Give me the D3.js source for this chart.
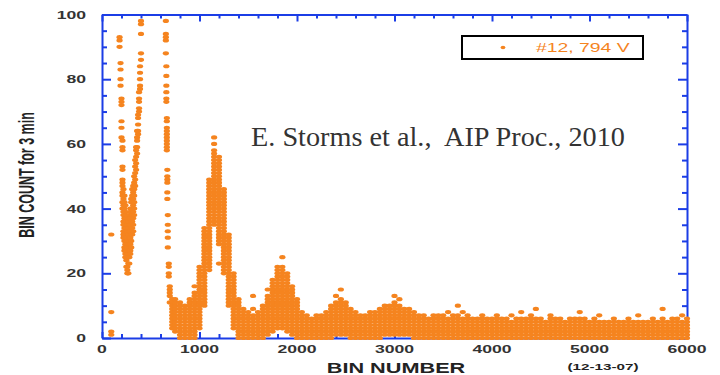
<!DOCTYPE html>
<html>
<head>
<meta charset="utf-8">
<script src="https://cdn.jsdelivr.net/npm/d3@7"></script>
<style>
  body { margin: 0; background: #fff; }
  svg { display: block; }
</style>
</head>
<body>
<div id="chart"></div>
<script>

var width = 720,
  height = 375;

// axis ticks
var xMajorTicks = [0, 1000, 2000, 3000, 4000, 5000, 6000];
var yMajorTicks = [0, 20, 40, 60, 80, 100];

var seriesLabel = "#12, 794 V";

// each bin number carries the list of counts seen around it
var binNumbers = [
  95,
  180, 190, 200, 210, 220, 230, 240, 250, 260, 270, 280, 290, 300, 310, 320, 330, 340, 350, 360, 370, 380, 390, 400,
  655, 660, 665, 670, 675, 685, 695, 720,
  750, 800, 850, 900, 950, 1000, 1050, 1100, 1150, 1200, 1250, 1300, 1350, 1400, 1450, 1500, 1550, 1600, 1650,
  1700, 1750, 1800, 1850, 1900, 1950, 2000, 2050, 2100, 2150, 2200, 2250, 2300, 2350, 2400, 2450, 2500, 2550,
  2600, 2650, 2700, 2750, 2800, 2850, 2900, 2950, 3000, 3050, 3100, 3150, 3200, 3250, 3300, 3350, 3400, 3450,
  3500, 3550, 3600, 3650, 3700, 3750, 3800, 3850, 3900, 3950, 4000, 4050, 4100, 4150, 4200, 4250, 4300, 4350,
  4400, 4450, 4500, 4550, 4600, 4650, 4700, 4750, 4800, 4850, 4900, 4950, 5000, 5050, 5100, 5150, 5200, 5250,
  5300, 5350, 5400, 5450, 5500, 5550, 5600, 5650, 5700, 5750, 5800, 5850, 5900, 5950, 6000
];

var binCounts = [
  [32, 8, 2, 1],
  // first double peak (tops run off the chart)
  [93, 92, 90],
  [85, 83, 80, 78],
  [74, 73, 72, 67, 65, 62],
  [61, 59, 58, 53, 52, 49, 48, 47, 45, 44, 42, 40],
  [46, 43, 41, 39, 38, 36, 35, 33, 32, 31],
  [44, 42, 40, 37, 35, 34, 32, 30, 28, 27],
  [41, 39, 37, 36, 34, 33, 31, 29, 28, 26, 25],
  [38, 36, 35, 33, 31, 30, 28, 27, 24, 22],
  [35, 33, 31, 30, 28, 26, 25, 22, 21, 20],
  [36, 34, 32, 29, 27, 25, 23, 20],
  [38, 37, 35, 33, 31, 29, 27, 25, 23],
  [40, 39, 37, 35, 33, 31, 29, 27, 26],
  [43, 42, 40, 38, 36, 34, 32, 30, 28],
  [46, 44, 42, 40, 38, 36, 34, 32],
  [47, 45, 43, 41, 39, 37, 35, 33],
  [50, 48, 46, 44, 42, 40, 38],
  [55, 53, 51, 49, 47],
  [59, 58, 56, 54, 52],
  [64, 62, 61, 59, 57],
  [69, 68, 66, 64, 63],
  [76, 74, 73, 71, 70],
  [84, 82, 80, 78, 77],
  [98, 97, 94, 88, 86],
  // falling edge of the second off-scale peak
  [98, 94, 93, 92, 88],
  [84, 81, 78, 76, 74, 73],
  [68, 67, 65, 64, 63, 62, 61, 60, 59, 58],
  [52, 50, 49, 48, 45, 43],
  [38, 35, 33, 31, 28],
  [23, 22, 20, 19],
  [16, 15, 14, 13, 11],
  [12, 11, 10, 9, 8, 7, 6, 5, 4, 3],
  // from here the dense part
  [2, 3, 4, 5, 6, 7, 8, 9, 10, 11, 12],
  [0, 1, 2, 3, 4, 5, 6, 7, 8, 9, 10, 11],
  [0, 1, 2, 3, 4, 5, 6, 7, 8, 9, 10],
  [0, 1, 2, 3, 4, 5, 6, 7, 8, 9, 10, 11, 12],
  [0, 1, 2, 3, 4, 5, 6, 7, 8, 9, 10, 11, 12, 13, 14, 16],
  [3, 4, 5, 6, 7, 8, 9, 10, 11, 12, 13, 14, 15, 16, 17, 18, 19, 20, 21, 22],
  [10, 11, 12, 13, 14, 15, 16, 17, 18, 19, 20, 21, 22, 23, 24, 25, 26, 27, 28, 29, 30, 31, 32, 33, 34],
  [21, 22, 23, 24, 25, 26, 27, 28, 29, 30, 31, 32, 33, 34, 35, 36, 37, 38, 39, 40, 41, 42, 43, 44, 45, 46, 47, 48, 49],
  [35, 36, 37, 38, 39, 40, 41, 42, 43, 44, 45, 46, 47, 48, 49, 50, 51, 52, 53, 54, 55, 56, 57, 58, 60, 62],
  [23, 29, 30, 31, 32, 33, 34, 35, 36, 37, 38, 39, 40, 41, 42, 43, 44, 45, 46, 47, 48, 49, 50, 51, 52, 53, 54, 55, 56],
  [20, 21, 22, 23, 24, 25, 26, 27, 28, 29, 30, 31, 32, 33, 34, 35, 36, 37, 38, 39, 40, 41, 42, 43, 44, 45, 46],
  [10, 11, 12, 13, 14, 15, 16, 17, 18, 19, 20, 21, 22, 23, 24, 25, 26, 27, 28, 29, 30, 31, 32],
  [3, 4, 5, 6, 7, 8, 9, 10, 11, 12, 13, 14, 15, 16, 17, 18, 19, 20],
  [0, 1, 2, 3, 4, 5, 6, 7, 8, 9, 10, 11, 12],
  [0, 1, 2, 3, 4, 5, 6, 7, 8, 9],
  [0, 1, 2, 3, 4, 5, 6, 7, 8],
  [0, 1, 2, 3, 4, 5, 6, 7, 9, 13],
  [0, 1, 2, 3, 4, 5, 6, 7, 8],
  [0, 1, 2, 3, 4, 5, 6, 7, 8, 9, 10],
  [1, 2, 3, 4, 5, 6, 7, 8, 9, 10, 11, 12, 13, 15],
  [2, 3, 4, 5, 6, 7, 8, 9, 10, 11, 12, 13, 14, 15, 16, 17, 18],
  [3, 4, 5, 6, 7, 8, 9, 10, 11, 12, 13, 14, 15, 16, 17, 18, 19, 20, 21, 22],
  [3, 4, 5, 6, 7, 8, 9, 10, 11, 12, 13, 14, 15, 16, 17, 18, 19, 20, 21, 22, 25],
  [2, 3, 4, 5, 6, 7, 8, 9, 10, 11, 12, 13, 14, 15, 16, 17, 18, 19, 20],
  [1, 2, 3, 4, 5, 6, 7, 8, 9, 10, 11, 12, 13, 14, 15, 16],
  [0, 1, 2, 3, 4, 5, 6, 7, 8, 9, 10, 11, 12],
  [0, 1, 2, 3, 4, 5, 6, 7, 8],
  [0, 1, 2, 3, 4, 5, 6, 7],
  [0, 1, 2, 3, 4, 5, 6],
  [0, 1, 2, 3, 4, 5, 6, 7],
  [0, 1, 2, 3, 4, 5, 6, 7],
  [0, 1, 2, 3, 4, 5, 6, 7, 8],
  [0, 1, 2, 3, 4, 5, 6, 7, 8, 9, 10],
  [1, 2, 3, 4, 5, 6, 7, 8, 9, 10, 11, 13],
  [1, 2, 3, 4, 5, 6, 7, 8, 9, 10, 11, 12, 15],
  [1, 2, 3, 4, 5, 6, 7, 8, 9, 10, 11],
  [0, 1, 2, 3, 4, 5, 6, 7, 8, 9],
  [0, 1, 2, 3, 4, 5, 6, 7, 8],
  [0, 1, 2, 3, 4, 5, 6, 7],
  [0, 1, 2, 3, 4, 5, 6, 7],
  [0, 1, 2, 3, 4, 5, 6, 7, 8],
  [0, 1, 2, 3, 4, 5, 6, 7, 8],
  [0, 1, 2, 3, 4, 5, 6, 7, 8, 9],
  [1, 2, 3, 4, 5, 6, 7, 8, 9, 10],
  [1, 2, 3, 4, 5, 6, 7, 8, 9, 10],
  [1, 2, 3, 4, 5, 6, 7, 8, 9, 10, 11, 13],
  [1, 2, 3, 4, 5, 6, 7, 8, 9, 10, 12],
  [1, 2, 3, 4, 5, 6, 7, 8, 9],
  [1, 2, 3, 4, 5, 6, 7, 8, 9],
  [0, 1, 2, 3, 4, 5, 6, 7, 8],
  [0, 1, 2, 3, 4, 5, 6, 7],
  [0, 1, 2, 3, 4, 5, 6, 7],
  [0, 1, 2, 3, 4, 5, 6],
  [0, 1, 2, 3, 4, 5, 6, 7],
  [0, 1, 2, 3, 4, 5, 6, 7],
  [0, 1, 2, 3, 4, 5, 6, 7],
  [0, 1, 2, 3, 4, 5, 6, 8],
  [0, 1, 2, 3, 4, 5, 6, 7],
  [0, 1, 2, 3, 4, 5, 6, 7, 10],
  [0, 1, 2, 3, 4, 5, 6, 8],
  [0, 1, 2, 3, 4, 5, 6, 7],
  [0, 1, 2, 3, 4, 5, 6],
  [0, 1, 2, 3, 4, 5, 6],
  [0, 1, 2, 3, 4, 5, 6, 7],
  [0, 1, 2, 3, 4, 5, 6],
  [0, 1, 2, 3, 4, 5, 6],
  [0, 1, 2, 3, 4, 5, 6, 7],
  [0, 1, 2, 3, 4, 5, 6],
  [0, 1, 2, 3, 4, 5, 6],
  [0, 1, 2, 3, 4, 5, 7],
  [0, 1, 2, 3, 4, 5, 6],
  [0, 1, 2, 3, 4, 5, 6, 8],
  [0, 1, 2, 3, 4, 5, 6],
  [0, 1, 2, 3, 4, 5, 6, 7],
  [0, 1, 2, 3, 4, 5, 6, 9],
  [0, 1, 2, 3, 4, 5, 6],
  [0, 1, 2, 3, 4, 5],
  [0, 1, 2, 3, 4, 5, 6, 7],
  [0, 1, 2, 3, 4, 5, 6],
  [0, 1, 2, 3, 4, 5, 6],
  [0, 1, 2, 3, 4, 5],
  [0, 1, 2, 3, 4, 5, 6],
  [0, 1, 2, 3, 4, 5, 6],
  [0, 1, 2, 3, 4, 5, 6, 8],
  [0, 1, 2, 3, 4, 5, 6],
  [0, 1, 2, 3, 4, 5],
  [0, 1, 2, 3, 4, 5, 6],
  [0, 1, 2, 3, 4, 5, 7],
  [0, 1, 2, 3, 4, 5],
  [0, 1, 2, 3, 4, 5],
  [0, 1, 2, 3, 4, 5, 6],
  [0, 1, 2, 3, 4, 5],
  [0, 1, 2, 3, 4, 5],
  [0, 1, 2, 3, 4, 5, 6],
  [0, 1, 2, 3, 4, 5],
  [0, 1, 2, 3, 4, 5, 7],
  [0, 1, 2, 3, 4, 5],
  [0, 1, 2, 3, 4, 5],
  [0, 1, 2, 3, 4, 5, 6],
  [0, 1, 2, 3, 4, 5],
  [0, 1, 2, 3, 4, 5, 6, 9],
  [0, 1, 2, 3, 4, 5],
  [0, 1, 2, 3, 4, 5, 6],
  [0, 1, 2, 3, 4, 5, 6],
  [0, 1, 2, 3, 4, 5, 7],
  [0, 1, 2, 3, 4, 5, 6]
];

var blue = "#1b3de6",
  orange = "#f5841f";

// the figure is stretched sideways, so the text is too
var stretch = 1.6;

var svg = d3.select("#chart")
  .append("svg")
  .attr("width", width)
  .attr("height", height);

var x = d3.scaleLinear().domain([0, 6000]).range([102, 687]);
var y = d3.scaleLinear().domain([0, 100]).range([338, 14.5]);

var xMinor = d3.range(0, 6001, 200).filter(function (d) { return d % 1000 !== 0; });
var yMinor = d3.range(0, 101, 5).filter(function (d) { return d % 20 !== 0; });

// makeAxis builds a fresh d3 axis each time (minor ticks, then major + domain)
function drawAxis(makeAxis, tx, ty, major, minor, bigLen, smallLen) {
  var gMinor = svg.append("g")
    .attr("transform", "translate(" + tx + "," + ty + ")")
    .call(makeAxis().tickValues(minor).tickSize(-smallLen).tickSizeOuter(0).tickFormat(""));
  gMinor.select(".domain").remove();
  svg.append("g")
    .attr("transform", "translate(" + tx + "," + ty + ")")
    .call(makeAxis().tickValues(major).tickSize(-bigLen).tickSizeOuter(0).tickFormat(""));
  svg.selectAll(".domain, .tick line")
    .attr("stroke", blue)
    .attr("stroke-width", 2);
}

drawAxis(function () { return d3.axisBottom(x); }, 0, y(0), xMajorTicks, xMinor, 6, 4);
drawAxis(function () { return d3.axisTop(x); }, 0, y(100), xMajorTicks, xMinor, 7, 4);
drawAxis(function () { return d3.axisLeft(y); }, x(0), 0, yMajorTicks, yMinor, 9, 5);
drawAxis(function () { return d3.axisRight(y); }, x(6000), 0, yMajorTicks, yMinor, 9, 5);

// tick labels
svg.append("g")
  .selectAll("text")
  .data(yMajorTicks)
  .enter().append("text")
  .attr("transform", function (d) { return "translate(86," + (y(d) + 4) + ") scale(" + stretch + ",1)"; })
  .attr("text-anchor", "end")
  .style("font-family", "'Liberation Sans', Arial, sans-serif")
  .style("font-weight", "bold")
  .style("font-size", "11px")
  .style("fill", "#333")
  .text(function (d) { return d; });

svg.append("g")
  .selectAll("text")
  .data(xMajorTicks)
  .enter().append("text")
  .attr("transform", function (d) { return "translate(" + x(d) + ",353) scale(" + stretch + ",1)"; })
  .attr("text-anchor", "middle")
  .style("font-family", "'Liberation Sans', Arial, sans-serif")
  .style("font-weight", "bold")
  .style("font-size", "11px")
  .style("fill", "#333")
  .text(function (d) { return d; });

// axis titles
svg.append("text")
  .attr("transform", "translate(396,373) scale(1.55,1)")
  .attr("text-anchor", "middle")
  .style("font-family", "'Liberation Sans', Arial, sans-serif")
  .style("font-weight", "bold")
  .style("font-size", "14px")
  .style("fill", "#222")
  .text("BIN NUMBER");

svg.append("text")
  .attr("transform", "translate(603,370) scale(1.6,1)")
  .attr("text-anchor", "middle")
  .style("font-family", "'Liberation Sans', Arial, sans-serif")
  .style("font-weight", "bold")
  .style("font-size", "9.5px")
  .style("fill", "#222")
  .text("(12-13-07)");

svg.append("text")
  .attr("transform", "translate(34,175) scale(1.8,1) rotate(-90)")
  .attr("text-anchor", "middle")
  .style("font-family", "'Liberation Sans', Arial, sans-serif")
  .style("font-weight", "bold")
  .style("font-size", "12.5px")
  .style("fill", "#222")
  .text("BIN COUNT for 3 min");

// the points
var points = [];
binNumbers.forEach(function (b, i) {
  binCounts[i].forEach(function (c) {
    points.push({ bin: b, count: c });
  });
});

svg.append("g")
  .selectAll("ellipse")
  .data(points)
  .enter().append("ellipse")
  .attr("cx", function (d) { return x(d.bin); })
  .attr("cy", function (d) { return y(d.count); })
  .attr("rx", 3.1)
  .attr("ry", 2.1)
  .attr("fill", orange);

// legend
var legend = svg.append("g");
legend.append("rect")
  .attr("x", 462)
  .attr("y", 36)
  .attr("width", 181)
  .attr("height", 23)
  .attr("fill", "#fff")
  .attr("stroke", "#000")
  .attr("stroke-width", 2);
legend.append("ellipse")
  .attr("cx", 503)
  .attr("cy", 47.5)
  .attr("rx", 2.4)
  .attr("ry", 1.7)
  .attr("fill", orange);
legend.append("text")
  .attr("transform", "translate(536,52) scale(1.55,1)")
  .style("font-family", "'Liberation Sans', Arial, sans-serif")
  .style("font-size", "12.5px")
  .style("fill", orange)
  .text(seriesLabel);

// citation
svg.append("text")
  .attr("x", 251)
  .attr("y", 146)
  .attr("textLength", 374)
  .attr("lengthAdjust", "spacingAndGlyphs")
  .style("font-family", "'Liberation Serif', 'Times New Roman', serif")
  .style("font-size", "27px")
  .style("white-space", "pre")
  .style("fill", "#333")
  .text("E. Storms et al.,  AIP Proc., 2010");

</script>
</body>
</html>
